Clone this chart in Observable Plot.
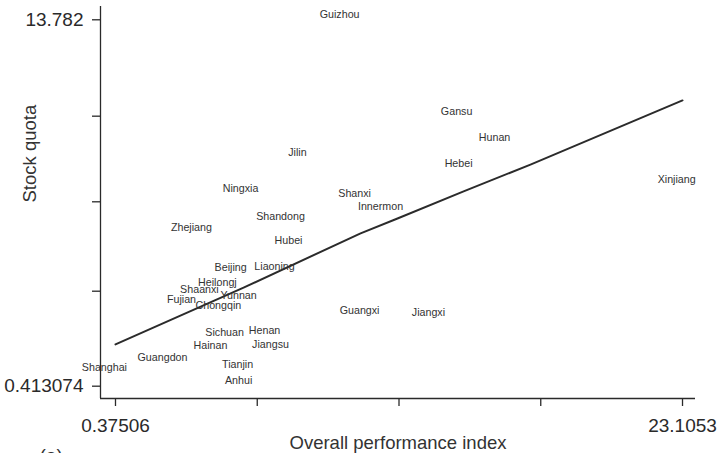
<!DOCTYPE html>
<html>
<head>
<meta charset="utf-8">
<script src="https://cdn.jsdelivr.net/npm/d3@7"></script>
<script src="https://cdn.jsdelivr.net/npm/@observablehq/plot@0.6"></script>
<style>
  html, body { margin: 0; padding: 0; background: #fff; overflow: hidden; }
</style>
</head>
<body>
<div id="chart"></div>
<script>
// Provinces, placed by overall performance index (x) and stock quota (y)
const provinces = [
  "Guizhou", "Gansu", "Hunan", "Jilin", "Hebei", "Xinjiang", "Ningxia", "Shanxi",
  "Innermon", "Shandong", "Zhejiang", "Hubei", "Beijing", "Liaoning", "Heilongj",
  "Shaanxi", "Yunnan", "Fujian", "Chongqin", "Guangxi", "Jiangxi", "Sichuan",
  "Henan", "Hainan", "Jiangsu", "Guangdon", "Tianjin", "Shanghai", "Anhui"
];
const performance = [
  9.36, 14.05, 15.57, 7.67, 14.13, 22.87, 5.39, 9.96,
  11.00, 6.99, 3.42, 7.31, 4.99, 6.75, 4.46,
  3.74, 5.31, 3.02, 4.50, 10.16, 12.92, 4.75,
  6.35, 4.18, 6.59, 2.26, 5.27, -0.07, 5.31
];
const stockQuota = [
  13.97, 10.44, 9.49, 8.94, 8.54, 7.96, 7.63, 7.44,
  6.97, 6.61, 6.20, 5.73, 4.74, 4.78, 4.20,
  3.94, 3.72, 3.58, 3.36, 3.18, 3.10, 2.37,
  2.45, 1.90, 1.94, 1.46, 1.21, 1.10, 0.62
];

// Fitted curve
const fitX = [0.375, 5.51, 10.20, 11.68, 14.33, 17.01, 23.105];
const fitY = [1.94, 4.01, 5.99, 6.53, 7.52, 8.50, 10.84];

// Axis ticks: only the end ticks carry labels
const xTicks = [0.37506, 6.05762, 11.74018, 17.42274, 23.1053];
const xTickLabels = ["0.37506", "", "", "", "23.1053"];
const yTicks = [0.413074, 3.879, 7.141, 10.265, 13.782];
const yTickLabels = ["0.413074", "", "", "", "13.782"];

const xDomain = [-0.226, 23.626];
const yDomain = [-0.036, 14.267];

const points = provinces.map((name, i) => ({name, x: performance[i], y: stockQuota[i]}));
const fit = fitX.map((x, i) => ({x, y: fitY[i]}));

const ink = "#2a2a2a";

const chart = Plot.plot({
  width: 717,
  height: 453,
  marginLeft: 100,
  marginRight: 22,
  marginTop: 6,
  marginBottom: 55,
  style: {
    fontFamily: "'Liberation Sans', Arial, Helvetica, sans-serif",
    fontSize: "19px",
    background: "#fff",
    color: ink
  },
  x: {domain: xDomain},
  y: {domain: yDomain},
  marks: [
    Plot.axisX({
      ticks: xTicks,
      tickSize: 8,
      tickPadding: 12,
      strokeWidth: 1.3,
      tickFormat: d => xTickLabels[xTicks.indexOf(d)],
      label: null
    }),
    Plot.axisY({
      ticks: yTicks,
      tickSize: 8,
      tickPadding: 9,
      strokeWidth: 1.3,
      tickFormat: d => yTickLabels[yTicks.indexOf(d)],
      label: null
    }),
    // L-shaped frame: left and bottom edges only
    Plot.ruleX([xDomain[0]], {stroke: ink, strokeWidth: 1.3}),
    Plot.ruleY([yDomain[0]], {stroke: ink, strokeWidth: 1.3}),
    Plot.line(fit, {x: "x", y: "y", stroke: "#2b2b2b", strokeWidth: 2}),
    Plot.text(points, {
      x: "x", y: "y", text: "name",
      fontSize: 10.7, fill: "#333", textAnchor: "middle", lineAnchor: "middle"
    }),
    // Axis titles
    Plot.text(["Overall performance index"], {
      frameAnchor: "bottom", dy: 50, lineAnchor: "bottom",
      fontSize: 18.5, fill: "#333"
    }),
    Plot.text(["Stock quota"], {
      frameAnchor: "left", dx: -65, rotate: -90, lineAnchor: "bottom",
      fontSize: 18.5, fill: "#333"
    }),
    // Panel tag
    Plot.text(["(a)"], {
      frameAnchor: "bottom-left", dx: -61, dy: 50, lineAnchor: "top",
      fontSize: 19, fill: "#333"
    })
  ]
});

document.getElementById("chart").appendChild(chart);
</script>
</body>
</html>
